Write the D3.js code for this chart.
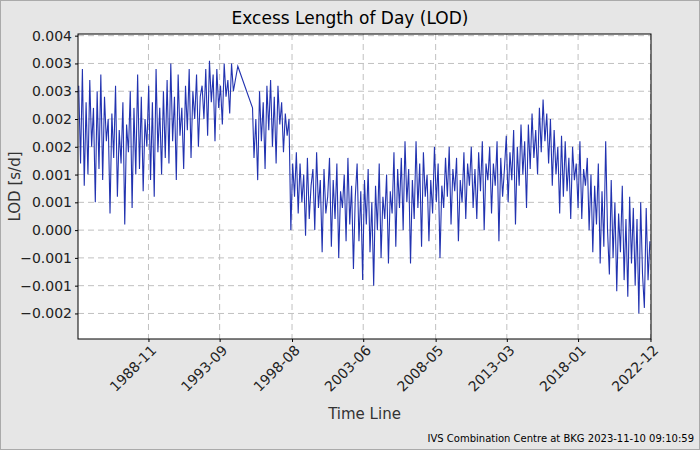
<!DOCTYPE html>
<html>
<head>
<meta charset="utf-8">
<script src="https://cdn.jsdelivr.net/npm/d3@7"></script>
<style>
body { margin: 0; background: #e6e6e6; }
text { font-family: "DejaVu Sans", sans-serif; }
</style>
</head>
<body>
<svg id="chart" width="700" height="450"></svg>
<script>
// LOD values in ms/d (converted to s/d when drawn)
var seg1Start = 1984.1, seg1Step = 0.125
var seg1 = [2.6,1.2,2.9,0.8,2.3,1.0,2.7,1.5, 2.2,0.5,2.5,1.1,2.8,0.9,2.4,1.6,
  2.0,0.3,2.1,1.3,2.6,0.6,1.8,1.2, 2.3,0.1,1.9,1.4,2.5,0.4,2.2,1.0,
  2.8,1.1,2.4,0.7,2.0,1.5,2.6,0.9, 2.3,0.6,2.9,1.4,2.2,1.0,2.5,1.3,
  2.7,1.2,3.0,1.6,2.4,0.9,2.8,1.7, 2.2,1.1,2.6,1.8,2.9,1.3,2.5,2.0,
  2.8,1.5,2.4,2.6,2.0,2.9,1.7,3.05, 2.3,2.8,1.6,2.9,2.2,2.6,1.9,3.0,
  2.4,2.7,2.1,3.0,2.5]
var gapYears = [1994.9, 1995.5, 1995.9]
var gapValues = [2.95, 2.5, 2.2]
var seg2Start = 1996.0, seg2Step = 0.125
var seg2 = [1.3,2.0,0.9,2.5,1.6,2.3,1.1,2.6, 1.8,2.7,1.5,2.4,1.2,2.6,1.9,2.3,
  1.4,2.1,1.7,2.0,0.0,1.2,0.6,1.4, 0.3,1.2,0.5,1.0,-0.1,1.3,0.2,0.8,
  1.1,0.0,1.4,0.4,0.9,-0.4,1.1,0.3, 0.6,1.3,-0.3,0.9,0.2,1.2,-0.5,0.7,
  0.4,1.0,-0.2,1.3,0.1,0.8,-0.7,0.6, 1.2,-0.2,0.7,-0.9,0.9,0.1,1.1,-0.4,
  0.5,-1.0,0.8,0.0,1.2,-0.5,0.6,0.2, 1.0,-0.6,0.7,0.3,1.4,-0.3,1.1,0.4,
  1.3,0.0,1.6,0.5,1.1,-0.6,0.9,0.2, 1.6,0.4,1.2,-0.3,1.4,0.6,1.0,-0.2,
  0.9,0.3,1.5,0.5,1.2,-0.5,0.8,0.4, 1.3,0.6,1.5,0.1,1.1,0.7,1.3,-0.2,
  0.9,0.5,1.4,0.2,1.2,0.8,1.5,0.4, 1.1,0.2,1.4,0.7,1.6,0.0,1.2,0.9,
  1.5,0.3,1.2,0.8,1.6,-0.2,1.3,0.6, 1.1,1.7,0.5,1.4,0.9,1.8,0.1,1.5,
  0.8,1.9,1.0,1.6,0.4,1.9,1.1,2.1, 1.3,1.8,1.0,2.2,1.4,2.35,1.6,2.1,
  1.2,2.0,0.8,1.8,1.0,1.5,0.3,1.7, 0.6,1.6,0.7,1.3,0.2,1.5,0.9,1.2,
  0.4,1.6,0.2,1.1,0.8,1.3,0.0,1.0, -0.4,0.8,0.1,1.2,-0.6,0.7,-0.3,1.6,
  0.0,-0.8,0.9,-0.5,0.5,-1.1,0.3,-0.4, 0.8,-0.9,0.2,-1.2,0.6,-0.6,0.4,-1.0,
  0.2,-1.5,0.5,-0.8,-1.4,0.4,-0.9,-0.2]
var xTicks = ["1988-11","1993-09","1998-08","2003-06","2008-05","2013-03","2018-01","2022-12"]
var yTicks = [-0.0015,-0.001,-0.0005,0,0.0005,0.001,0.0015,0.002,0.0025,0.003,0.0035]

function yearToDate(y) {
    var yr = Math.floor(y)
    var s = new Date(yr, 0, 1), e = new Date(yr + 1, 0, 1)
    return new Date(+s + (y - yr) * (e - s))
}

var points = []
seg1.forEach(function(v, i) { points.push({d: yearToDate(seg1Start + i*seg1Step), v: v/1000}) })
gapYears.forEach(function(y, i) { points.push({d: yearToDate(y), v: gapValues[i]/1000}) })
seg2.forEach(function(v, i) { points.push({d: yearToDate(seg2Start + i*seg2Step), v: v/1000}) })

var parseT = d3.timeParse("%Y-%m")
var svg = d3.select("#chart")
var L = 78, R = 651, T = 34, B = 339

svg.append("rect").attr("x",0.5).attr("y",0.5).attr("width",699).attr("height",449)
    .attr("fill","#e6e6e6").attr("stroke","#aaa")

var x = d3.scaleTime().domain([new Date(1984,0,20), new Date(2022,11,14)]).range([L, R])
var y = d3.scaleLinear().domain([-0.00196, 0.00353]).range([B, T])

svg.append("rect").attr("x",L).attr("y",T).attr("width",R-L).attr("height",B-T).attr("fill","white")

// grid
svg.append("g").selectAll("line").data(xTicks.map(parseT)).join("line")
    .attr("x1", d => x(d)).attr("x2", d => x(d)).attr("y1", T).attr("y2", B)
    .attr("stroke","#c0c0c0").attr("stroke-dasharray","6,4")
svg.append("g").selectAll("line").data(yTicks).join("line")
    .attr("x1", L).attr("x2", R).attr("y1", d => y(d)).attr("y2", d => y(d))
    .attr("stroke","#c0c0c0").attr("stroke-dasharray","6,4")

var line = d3.line().x(d => x(d.d)).y(d => y(d.v))
svg.append("path").datum(points).attr("d", line)
    .attr("fill","none").attr("stroke","#2233b0").attr("stroke-width",1.1)

svg.append("rect").attr("x",L).attr("y",T).attr("width",R-L).attr("height",B-T)
    .attr("fill","none").attr("stroke","black")

var yAxis = svg.append("g").attr("transform","translate("+L+",0)")
    .call(d3.axisLeft(y).tickValues(yTicks).tickFormat(d3.format(".3f")).tickSize(3))
yAxis.select(".domain").remove()
yAxis.selectAll("text").attr("font-size",14).attr("fill","#222")

var xAxis = svg.append("g").attr("transform","translate(0,"+B+")")
    .call(d3.axisBottom(x).tickValues(xTicks.map(parseT)).tickFormat(d3.timeFormat("%Y-%m")).tickSize(3))
xAxis.select(".domain").remove()
xAxis.selectAll("text").attr("font-size",14).attr("fill","#222")
    .attr("text-anchor","end").attr("dx",0).attr("dy",0)
    .attr("transform","translate(4,8) rotate(-45)")

svg.append("text").attr("x",350).attr("y",24).attr("text-anchor","middle")
    .attr("font-size",17).attr("fill","black").text("Excess Length of Day (LOD)")
svg.append("text").attr("transform","translate(20,"+((T+B)/2)+") rotate(-90)")
    .attr("text-anchor","middle").attr("font-size",15).attr("fill","#333").text("LOD [s/d]")
svg.append("text").attr("x",(L+R)/2).attr("y",419).attr("text-anchor","middle")
    .attr("font-size",15).attr("fill","#333").text("Time Line")
svg.append("text").attr("x",694).attr("y",442).attr("text-anchor","end")
    .attr("font-size",10).attr("fill","black").text("IVS Combination Centre at BKG 2023-11-10 09:10:59")
</script>
</body>
</html>
